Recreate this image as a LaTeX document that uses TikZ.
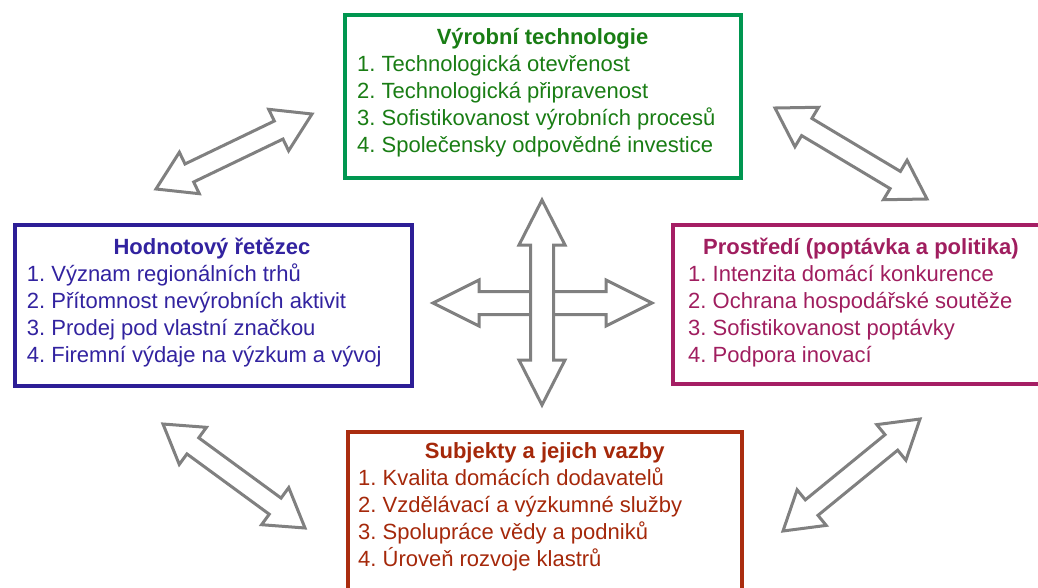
\documentclass[tikz,border=0pt]{standalone}
\usepackage{fontspec}
\setmainfont{Liberation Sans}
\usetikzlibrary{calc}
\frenchspacing
\definecolor{grnB}{RGB}{0,150,80}
\definecolor{grnT}{RGB}{25,125,20}
\definecolor{bluB}{RGB}{45,30,150}
\definecolor{bluT}{RGB}{50,35,160}
\definecolor{magB}{RGB}{165,30,100}
\definecolor{magT}{RGB}{160,30,95}
\definecolor{redB}{RGB}{170,45,15}
\definecolor{redT}{RGB}{165,40,10}
\definecolor{arrowgray}{RGB}{128,128,128}
\tikzset{
  box/.style={draw, line width=4pt, inner sep=0pt},
  ttl/.style={font=\fontsize{22}{27}\selectfont\bfseries, anchor=base, inner sep=0pt},
  itm/.style={font=\fontsize{22}{27}\selectfont, anchor=base west, inner sep=0pt},
  blockarrow/.style={draw=arrowgray, fill=white, line width=3pt, line join=miter},
}
% double block arrow between two named coordinates
% #1 start, #2 end, #3 half shaft width, #4 half head width, #5 head length
\newcommand\dblblockarrow[5]{%
  \path (#1); \pgfgetlastxy{\dbaAx}{\dbaAy}%
  \path (#2); \pgfgetlastxy{\dbaBx}{\dbaBy}%
  \pgfmathsetmacro\dbaAng{atan2(\dbaBy-\dbaAy,\dbaBx-\dbaAx)}%
  \pgfmathsetmacro\dbaLen{veclen(\dbaBx-\dbaAx,\dbaBy-\dbaAy)}%
  \begin{scope}[shift={(#1)}, rotate=\dbaAng, x=1pt, y=1pt]
    \draw[blockarrow] (0,0) -- (#5,#4) -- (#5,#3) -- (\dbaLen-#5,#3) -- (\dbaLen-#5,#4)
      -- (\dbaLen,0) -- (\dbaLen-#5,-#4) -- (\dbaLen-#5,-#3) -- (#5,-#3) -- (#5,-#4) -- cycle;
  \end{scope}%
}
\begin{document}
\begin{tikzpicture}[x=1pt, y=-1pt]
\useasboundingbox (0,0) rectangle (1038,587);
\clip (0,0) rectangle (1038,587);
\fill[white] (0,0) rectangle (1038,587);

% boxes
\node[box, draw=grnB, minimum width=396pt, minimum height=163pt] (tech) at (542.5,96) {};
\node[box, draw=bluB, minimum width=397.5pt, minimum height=161pt] (value) at (213.25,305) {};
\node[box, draw=magB, minimum width=397.5pt, minimum height=159pt] (env) at (871.25,304) {};
\node[box, draw=redB, minimum width=394.5pt, minimum height=168.5pt] (subj) at (544.75,515.75) {};

% top box text
\node[ttl, text=grnT] (tech-t) at (542.5,44) {Výrobní technologie};
\node[itm, text=grnT] (tech-1) at (357,71) {1. Technologická otevřenost};
\node[itm, text=grnT] (tech-2) at (357,98) {2. Technologická připravenost};
\node[itm, text=grnT] (tech-3) at (357,125) {3. Sofistikovanost výrobních procesů};
\node[itm, text=grnT] (tech-4) at (357,152) {4. Společensky odpovědné investice};

% left box text
\node[ttl, text=bluT] (value-t) at (212,254) {Hodnotový řetězec};
\node[itm, text=bluT] (value-1) at (26.7,281) {1. Význam regionálních trhů};
\node[itm, text=bluT] (value-2) at (26.7,308) {2. Přítomnost nevýrobních aktivit};
\node[itm, text=bluT] (value-3) at (26.7,335) {3. Prodej pod vlastní značkou};
\node[itm, text=bluT] (value-4) at (26.7,362) {4. Firemní výdaje na výzkum a vývoj};

% right box text
\node[ttl, text=magT, anchor=base west] (env-t) at (703,254) {Prostředí (poptávka a politika)};
\node[itm, text=magT] (env-1) at (688,281) {1. Intenzita domácí konkurence};
\node[itm, text=magT] (env-2) at (688,308) {2. Ochrana hospodářské soutěže};
\node[itm, text=magT] (env-3) at (688,335) {3. Sofistikovanost poptávky};
\node[itm, text=magT] (env-4) at (688,362) {4. Podpora inovací};

% bottom box text
\node[ttl, text=redT] (subj-t) at (544.75,458) {Subjekty a jejich vazby};
\node[itm, text=redT] (subj-1) at (358,485) {1. Kvalita domácích dodavatelů};
\node[itm, text=redT] (subj-2) at (358,512) {2. Vzdělávací a výzkumné služby};
\node[itm, text=redT] (subj-3) at (358,539) {3. Spolupráce vědy a podniků};
\node[itm, text=redT] (subj-4) at (358,566) {4. Úroveň rozvoje klastrů};

% arrow end points
\coordinate (tlA) at (156,189);
\coordinate (tlB) at (312,114);
\coordinate (trA) at (775,108);
\coordinate (trB) at (927,199);
\coordinate (blA) at (163,424);
\coordinate (blB) at (305,528);
\coordinate (brA) at (783,531);
\coordinate (brB) at (920,419);
\coordinate (cL) at (433,303);
\coordinate (cR) at (652,303);
\coordinate (cT) at (542,200);
\coordinate (cB) at (542,405);

% diagonal arrows
\dblblockarrow{tlA}{tlB}{10}{23}{37}
\dblblockarrow{trA}{trB}{10}{23}{37}
\dblblockarrow{blA}{blB}{10}{23}{37}
\dblblockarrow{brA}{brB}{10}{23}{37}
% central cross
\dblblockarrow{cL}{cR}{11.5}{23}{46}
\dblblockarrow{cT}{cB}{11.5}{23}{45}
\end{tikzpicture}
\end{document}
